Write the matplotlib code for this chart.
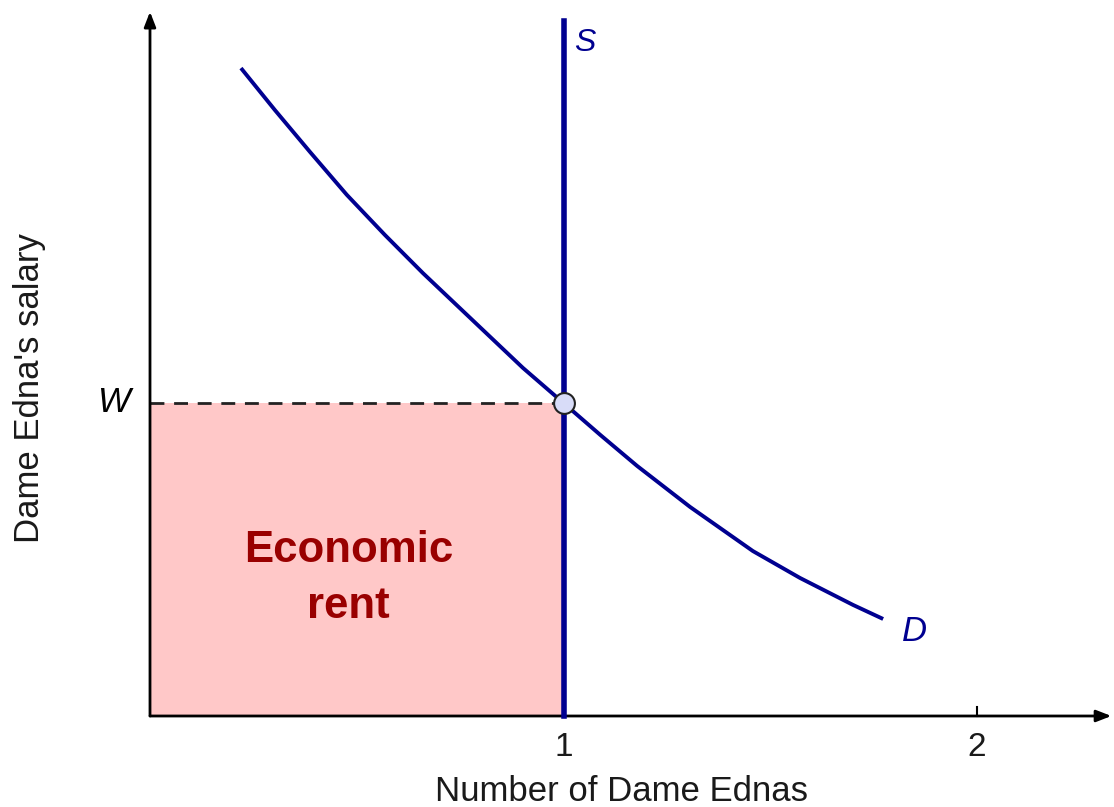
import matplotlib
matplotlib.use("Agg")
import matplotlib.pyplot as plt

# ---- data ----
demand_q = [0.220, 0.302, 0.387, 0.476, 0.568, 0.660, 0.767, 0.902, 1.000,
            1.089, 1.178, 1.306, 1.458, 1.572, 1.700, 1.773]
demand_w = [2.070, 1.936, 1.802, 1.665, 1.537, 1.415, 1.281, 1.112, 1.000,
            0.898, 0.799, 0.668, 0.527, 0.441, 0.355, 0.310]
supply_q = 1.0
supply_top = 2.22
wage = 1.0
x_ticks = [1, 2]
x_tick_labels = ["1", "2"]

plt.rcParams['font.family'] = ['Liberation Sans', 'DejaVu Sans']

fig = plt.figure(figsize=(11.14, 8.07), dpi=100)
ax = fig.add_axes([0, 0, 1, 1])
ax.set_xlim(-150 / 413.5, (1114 - 150) / 413.5)
ax.set_ylim(-(807 - 716) / 313, 716 / 313)
ax.axis('off')

navy = '#000090'
txt = '#1a1a1a'

# economic rent area
ax.fill_between([0, supply_q], 0, wage, color='#FFC8C8', lw=0, zorder=1)

# axes with arrows
ax.annotate('', xy=(2.325, 0), xytext=(0, 0),
            arrowprops=dict(arrowstyle='-|>,head_length=0.9,head_width=0.35', color='black', lw=2,
                            shrinkA=0, shrinkB=0), zorder=3)
ax.annotate('', xy=(0, 2.25), xytext=(0, 0),
            arrowprops=dict(arrowstyle='-|>,head_length=0.9,head_width=0.35', color='black', lw=2,
                            shrinkA=0, shrinkB=0), zorder=3)

# ticks
for t, lab in zip(x_ticks, x_tick_labels):
    ax.plot([t, t], [0, 0.028], color='black', lw=1.5, zorder=3)
    ax.text(t, -0.1, lab, ha='center', va='center', fontsize=24, color=txt)

# dashed wage line
ax.plot([0, supply_q], [wage, wage], color='#222222', lw=2, dashes=(5, 3.5), zorder=2)

# supply
ax.plot([supply_q, supply_q], [0, supply_top], color=navy, lw=4, zorder=4)
# demand
ax.plot(demand_q, demand_w, color=navy, lw=2.8, zorder=4, solid_capstyle='butt',
        solid_joinstyle='round')

# equilibrium point
ax.plot([supply_q], [wage], 'o', ms=15, mfc='#D8DCF8', mec='#222222', mew=1.5, zorder=5)

# labels
ax.text(supply_q + 0.052, 2.15, 'S', ha='center', va='center', fontsize=23, style='italic', color=navy)
ax.text(1.848, 0.27, 'D', ha='center', va='center', fontsize=25, style='italic', color=navy)
ax.text(-0.085, wage, 'W', ha='center', va='center', fontsize=25, style='italic', color='black')

ax.text(0.480, 0.53, 'Economic', ha='center', va='center', fontsize=31.5, fontweight='bold', color='#990000')
ax.text(0.480, 0.35, 'rent', ha='center', va='center', fontsize=31.5, fontweight='bold', color='#990000')

ax.text(1.141, -0.242, 'Number of Dame Ednas', ha='center', va='center', fontsize=25, color=txt)
ax.text(-0.292, 1.048, "Dame Edna's salary", ha='center', va='center', fontsize=25, rotation=90,
        color=txt)

fig.savefig('out.png', dpi=100)
